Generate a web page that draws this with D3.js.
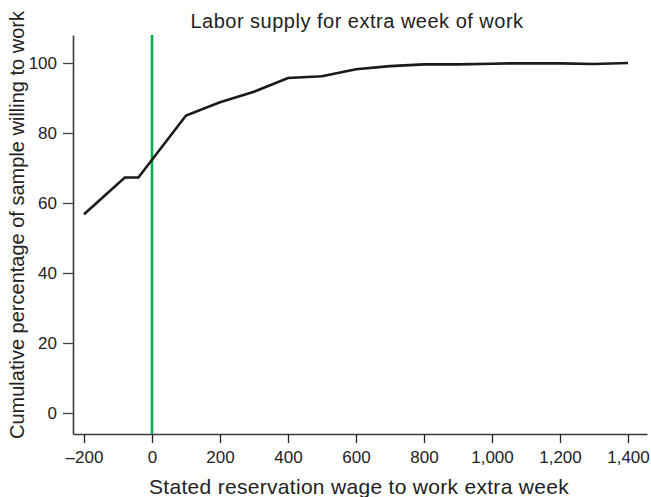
<!DOCTYPE html>
<html>
<head>
<meta charset="utf-8">
<script src="https://cdn.jsdelivr.net/npm/d3@7"></script>
<style>
  html, body { margin: 0; padding: 0; background: #fff; }
  svg { display: block; font-family: "Liberation Sans", Arial, Helvetica, sans-serif; }
</style>
</head>
<body>
<svg id="chart" width="651" height="497"></svg>
<script>
// Stated reservation wage (x) and cumulative % willing to work (y)
const wages = [-200, -80, -40, 100, 200, 300, 400, 500, 600, 700, 800, 900, 1000, 1050, 1200, 1300, 1400];
const cumulativePct = [56.8, 67.3, 67.3, 85.0, 88.8, 91.8, 95.7, 96.2, 98.2, 99.1, 99.6, 99.6, 99.8, 99.9, 99.9, 99.7, 100.0];
const xTicks = [-200, 0, 200, 400, 600, 800, 1000, 1200, 1400];
const yTicks = [0, 20, 40, 60, 80, 100];
const zeroWage = [0];

const svg = d3.select("#chart");
const plot = { left: 73, right: 647, top: 35, bottom: 434 };

const x = d3.scaleLinear().domain([-232.4, 1455.9]).range([plot.left, plot.right]);
const y = d3.scaleLinear().domain([-6, 108]).range([plot.bottom, plot.top]);

const axisColor = "#3a3a3a";
const fmt = d => (d < 0 ? "\u2013" + Math.abs(d) : d3.format(",")(d));

// x axis
const gx = svg.append("g").attr("transform", `translate(0,${plot.bottom})`)
  .call(d3.axisBottom(x).tickValues(xTicks).tickFormat(fmt).tickSize(9).tickPadding(8).tickSizeOuter(0));
gx.select(".domain").attr("stroke", axisColor).attr("stroke-width", 1.6);
gx.selectAll(".tick line").attr("stroke", "#222").attr("stroke-width", 1.3);
gx.selectAll(".tick text").attr("font-size", 17).attr("fill", "#222").attr("font-family", "Liberation Sans, Arial, sans-serif");

// y axis
const gy = svg.append("g").attr("transform", `translate(${plot.left},0)`)
  .call(d3.axisLeft(y).tickValues(yTicks).tickSize(10).tickPadding(6).tickSizeOuter(0));
gy.select(".domain").attr("stroke", axisColor).attr("stroke-width", 1.6);
gy.selectAll(".tick line").attr("stroke", "#444").attr("stroke-width", 1.3);
gy.selectAll(".tick text").attr("font-size", 17).attr("fill", "#222").attr("font-family", "Liberation Sans, Arial, sans-serif");

// zero-wage reference line
svg.selectAll("line.zero").data(zeroWage).enter().append("line")
  .attr("class", "zero")
  .attr("x1", d => x(d)).attr("x2", d => x(d))
  .attr("y1", plot.top).attr("y2", plot.bottom)
  .attr("stroke", "#00b04f").attr("stroke-width", 2.6);

// labor supply curve
const pts = wages.map((w, i) => [w, cumulativePct[i]]);
svg.append("path").datum(pts)
  .attr("fill", "none").attr("stroke", "#1a1a1a").attr("stroke-width", 2.6)
  .attr("stroke-linejoin", "miter")
  .attr("d", d3.line().x(d => x(d[0])).y(d => y(d[1])));

// titles
svg.append("text").attr("x", 357).attr("y", 28).attr("text-anchor", "middle")
  .attr("font-size", 20).attr("letter-spacing", 0.5).attr("fill", "#222")
  .text("Labor supply for extra week of work");
svg.append("text").attr("x", 359).attr("y", 494).attr("text-anchor", "middle")
  .attr("font-size", 21).attr("letter-spacing", 0.3).attr("fill", "#222")
  .text("Stated reservation wage to work extra week");
svg.append("text").attr("transform", "translate(24,225) rotate(-90)").attr("text-anchor", "middle")
  .attr("font-size", 20).attr("fill", "#222")
  .text("Cumulative percentage of sample willing to work");
</script>
</body>
</html>
